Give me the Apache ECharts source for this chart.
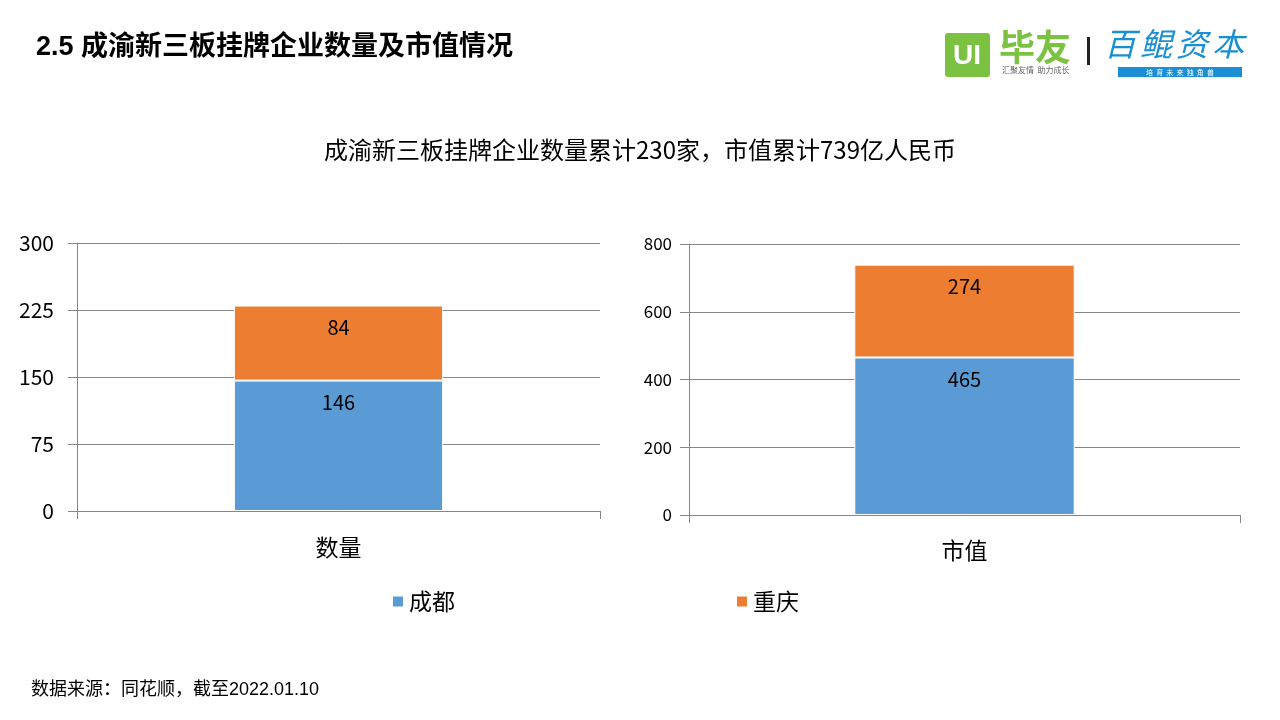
<!DOCTYPE html>
<html><head><meta charset="utf-8">
<script src="https://cdn.jsdelivr.net/npm/echarts@6/dist/echarts.min.js"></script>
<style>html,body{margin:0;padding:0;background:#fff}#c{width:1280px;height:720px}</style>
</head><body><div id="c"></div>
<script>
const categoriesLeft = ['数量'];
const categoriesRight = ['市值'];
const seriesNames = ['成都', '重庆'];
const chengduCount = [146];
const chongqingCount = [84];
const chengduValue = [465];
const chongqingValue = [274];
const leftTicks = {min: 0, max: 300, interval: 75};
const rightTicks = {min: 0, max: 800, interval: 200};

const FONT = "'Noto Sans CJK SC','Liberation Sans',sans-serif";
const FONT2 = "'Liberation Sans','Noto Sans CJK SC',sans-serif";
const BLUE = '#5B9BD5', ORANGE = '#ED7D31';
const chart = echarts.init(document.getElementById('c'));

function catAxis(idx, data, margin) {
  return {
    type: 'category', gridIndex: idx, data: data,
    axisLine: {lineStyle: {color: '#868686', width: 1}},
    axisTick: {show: true, length: 8, lineStyle: {color: '#868686'}},
    axisLabel: {color: '#000', fontSize: 23, fontFamily: FONT, margin: margin}
  };
}
function valAxis(idx, t, fs, margin) {
  return {
    type: 'value', gridIndex: idx, min: t.min, max: t.max, interval: t.interval,
    axisLine: {show: true, lineStyle: {color: '#868686', width: 1}},
    axisTick: {show: true, length: 9, lineStyle: {color: '#868686'}},
    splitLine: {lineStyle: {color: '#868686', width: 1}},
    axisLabel: {color: '#000', fontSize: fs, fontFamily: FONT, margin: margin}
  };
}
function bar(name, data, xi, color, fs) {
  return {
    type: 'bar', name: name, data: data, xAxisIndex: xi, yAxisIndex: xi,
    stack: 's' + xi, barWidth: '40%',
    itemStyle: {color: color, borderColor: '#fff', borderWidth: 1},
    label: {show: true, position: 'insideTop', distance: 12, color: '#000',
      fontSize: fs, fontFamily: FONT},
    emphasis: {disabled: true}
  };
}

const logoChars = ['百', '鲲', '资', '本'];

chart.setOption({
  animation: false,
  title: [
    {text: '2.5 成渝新三板挂牌企业数量及市值情况', left: 31, top: 29,
     textStyle: {fontSize: 27, fontWeight: 'bold', color: '#000', fontFamily: FONT2}},
    {text: '成渝新三板挂牌企业数量累计230家，市值累计739亿人民币', left: 'center', top: 133,
     textStyle: {fontSize: 24, fontWeight: 'normal', color: '#000', fontFamily: FONT}},
    {text: '数据来源：同花顺，截至2022.01.10', left: 26, top: 676,
     textStyle: {fontSize: 18, fontWeight: 'normal', color: '#000', fontFamily: FONT2}}
  ],
  legend: {
    data: seriesNames, left: 386, top: 585, itemGap: 280,
    itemWidth: 12, itemHeight: 12, icon: 'rect',
    textStyle: {fontSize: 23, color: '#000', fontFamily: FONT}
  },
  grid: [
    {left: 77, right: 680, top: 243, bottom: 209},
    {left: 689, right: 40, top: 244, bottom: 205}
  ],
  xAxis: [catAxis(0, categoriesLeft, 25), catAxis(1, categoriesRight, 24)],
  yAxis: [valAxis(0, leftTicks, 21, 23), valAxis(1, rightTicks, 17, 17)],
  series: [
    bar(seriesNames[0], chengduCount, 0, BLUE, 20),
    bar(seriesNames[1], chongqingCount, 0, ORANGE, 20),
    bar(seriesNames[0], chengduValue, 1, BLUE, 20),
    bar(seriesNames[1], chongqingValue, 1, ORANGE, 20)
  ],
  graphic: [
    {type: 'rect', shape: {x: 945, y: 33, width: 45, height: 44, r: 3}, style: {fill: '#7CC242'}},
    {type: 'text', style: {x: 967, y: 56, text: 'UI', fill: '#fff', font: 'bold 28px "Liberation Sans"', align: 'center', verticalAlign: 'middle'}},
    {type: 'text', style: {x: 999, y: 29, text: '毕友', fill: '#7CC242', font: 'bold 36px "Noto Sans CJK SC"'}},
    {type: 'text', style: {x: 1002, y: 66, text: '汇聚友情  助力成长', fill: '#666', font: '8px "Noto Sans CJK SC"'}},
    {type: 'rect', shape: {x: 1087, y: 37, width: 3, height: 28}, style: {fill: '#222'}},
    ...logoChars.map((ch, i) => ({type: 'text', style: {x: 1104 + i * 36, y: 28, text: ch, fill: '#1A8FD3', font: 'italic 32px "Noto Sans CJK SC"'}})),
    {type: 'rect', shape: {x: 1118, y: 67, width: 124, height: 10}, style: {fill: '#1A8FD3'}},
    {type: 'text', style: {x: 1180, y: 72, text: '培  育  未  来  独  角  兽', fill: '#fff', font: '7px "Noto Sans CJK SC"', align: 'center', verticalAlign: 'middle'}}
  ]
});
</script></body></html>
